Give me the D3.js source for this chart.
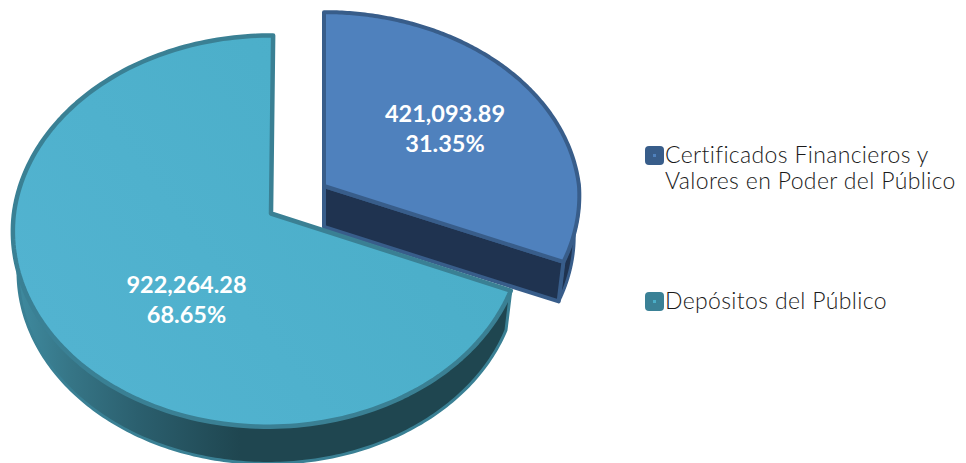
<!DOCTYPE html>
<html><head><meta charset="utf-8">
<style>html,body{margin:0;padding:0;background:#fff}svg{display:block}</style>
<script src="https://cdn.jsdelivr.net/npm/d3@7/dist/d3.min.js"></script>
</head><body>
<svg id="c" width="966" height="463"></svg>
<script>
const categories = ["Certificados Financieros y|Valores en Poder del Público", "Depósitos del Público"];
const values = [421093.89, 922264.28];

const svg = d3.select("#c");
const defs = svg.append("defs");
const fmt = d3.format(",.2f"), pct = d3.format(".2%");
const total = d3.sum(values);
const pie = d3.pie().sort(null).value(d => d);
const arcs = pie(values);

const styles = [
  {cx:324, cy:186, b:255, a:189, k:.087, m:0, skew:.05, skewUp:0, fill:"#4f81bd", stroke:"#385d8a", wall:"#1f3350"},
  {cx:271, cy:213.5, b:254, a:194, k:.09, m:.012, skew:0, skewUp:.012, fill:"url(#tealTop)", stroke:"#3a8094", wall:"url(#tealWall)"}
];
const depth = 41, depthScale = .98;

function project(s, t, r, d) {
  const u = r * Math.sin(t), v = -r * Math.cos(t);
  const den = 1 - s.k * v + s.m * u;
  let x = s.b * u / den, y = s.a * v / den;
  if (y > 0) x -= s.skew * y; else x -= s.skewUp * y;
  if (d) { x *= depthScale; y = y * depthScale + depth; }
  return [s.cx + x, s.cy + y];
}
const angleSteps = (a0, a1) => d3.range(0, 181).map(i => d3.interpolateNumber(a0, a1)(i / 180));
const line = d3.line();
const deg = d3.scaleLinear().domain([0, 360]).range([0, 2 * Math.PI]);

const g1 = defs.append("linearGradient").attr("id","tealWall").attr("gradientUnits","userSpaceOnUse")
  .attr("x1",15).attr("x2",240).attr("y1",0).attr("y2",0);
[[0,"#3f8ba0"],[.25,"#367586"],[.55,"#2b5f6e"],[1,"#1f4650"]].forEach(d=>g1.append("stop").attr("offset",d[0]).attr("stop-color",d[1]));
const g2 = defs.append("linearGradient").attr("id","tealTop").attr("gradientUnits","userSpaceOnUse")
  .attr("x1",100).attr("y1",400).attr("x2",500).attr("y2",100);
[[0,"#52b3d0"],[1,"#49adc7"]].forEach(d=>g2.append("stop").attr("offset",d[0]).attr("stop-color",d[1]));

// Blue slice: outer wall, cut face, top
(function(){
  const s = styles[0], A = arcs[0];
  const top = angleSteps(deg(88), A.endAngle).map(t => project(s,t,1,false));
  const bot = angleSteps(deg(88), A.endAngle).map(t => project(s,t,1,true)).reverse();
  svg.append("path").attr("d", line(top.concat(bot))+"Z").attr("fill",s.wall).attr("stroke",s.stroke).attr("stroke-width",3).attr("stroke-linejoin","round");
  const face = [project(s,0,0,false), project(s,A.endAngle,1,false), project(s,A.endAngle,1,true), project(s,0,0,true)];
  svg.append("path").attr("d", line(face)+"Z").attr("fill",s.wall).attr("stroke",s.stroke).attr("stroke-width",4).attr("stroke-linejoin","round");
  const pts = [[s.cx,s.cy]].concat(angleSteps(A.startAngle,A.endAngle).map(t=>project(s,t,1,false)));
  svg.append("path").attr("d", line(pts)+"Z").attr("fill",s.fill).attr("stroke",s.stroke).attr("stroke-width",4).attr("stroke-linejoin","round");
})();

// Teal slice: outer wall, top
(function(){
  const s = styles[1], A = arcs[1];
  const top = angleSteps(A.startAngle, deg(278)).map(t => project(s,t,1,false));
  const bot = angleSteps(A.startAngle, deg(278)).map(t => project(s,t,1,true)).reverse();
  svg.append("path").attr("d", line(top.concat(bot))+"Z").attr("fill",s.wall).attr("stroke",s.stroke).attr("stroke-width",3).attr("stroke-linejoin","round");
  const pts = [[s.cx,s.cy]].concat(angleSteps(A.startAngle,A.endAngle).map(t=>project(s,t,1,false)));
  svg.append("path").attr("d", line(pts)+"Z").attr("fill",s.fill).attr("stroke",s.stroke).attr("stroke-width",4.5).attr("stroke-linejoin","round");
})();

// Value labels
const labelPos = [{x:445,y:[122,152]},{x:186.5,y:[293,323]}];
values.forEach((v,i)=>{
  [fmt(v), pct(v/total)].forEach((t,j)=>{
    svg.append("text").attr("x",labelPos[i].x).attr("y",labelPos[i].y[j]).attr("text-anchor","middle")
      .attr("font-family","Lato").attr("font-weight",700).attr("font-size",23.5).attr("fill","#fff").text(t);
  });
});

// Legend
const legendY = [146, 292];
const swatch = [["#385d8a","#4f81bd"],["#3a8196","#4aaec8"]];
categories.forEach((c,i)=>{
  const y = legendY[i];
  svg.append("rect").attr("x",645).attr("y",y).attr("width",19).attr("height",19).attr("rx",4).attr("fill",swatch[i][0]);
  svg.append("rect").attr("x",653).attr("y",y+8).attr("width",3).attr("height",3).attr("fill",swatch[i][1]);
  c.split("|").forEach((t,j)=>{
    svg.append("text").attr("x",665).attr("y",y+17+j*26).attr("font-family","Lato").attr("font-weight",300)
      .attr("font-size",23).attr("letter-spacing",.35).attr("fill","#1a1a1a").text(t);
  });
});
</script>
</body></html>
